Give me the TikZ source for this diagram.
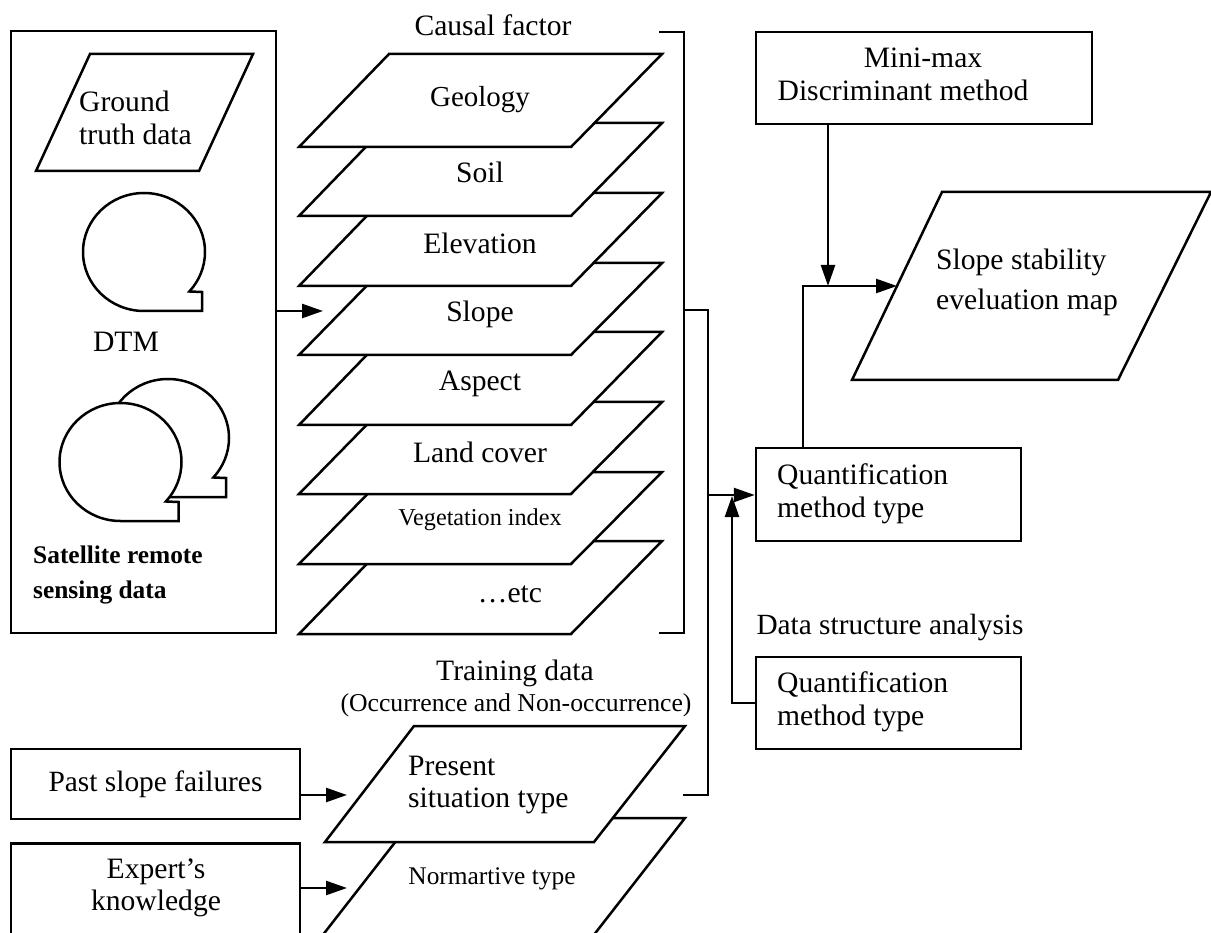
\documentclass[tikz,border=0pt]{standalone}
\usepackage{fontspec}
\setmainfont{Liberation Serif}
\usetikzlibrary{arrows.meta}
\tikzset{
  ln/.style={line width=2.5pt,line join=miter},
  flow/.style={ln,-{Triangle[length=21pt,width=14pt]}},
  lbl/.style={inner sep=0pt,font=\fontsize{29.6}{32.5}\selectfont,align=center},
  lbll/.style={lbl,align=left,anchor=west},
  boxed/.style={ln,draw,inner sep=0pt,fill=white},
}
\newcommand{\plate}[7]{% name, TLx, top, TRx, BRx, bottom, BLx
  \path[ln,draw=black,fill=white] (#2,#3) coordinate (#1) -- (#4,#3) -- (#5,#6) -- (#7,#6) -- cycle;
}
\newcommand{\bubble}[3]{% cx cy name
  \begin{scope}[shift={(#1,#2)}]
  \path[ln,draw=black,fill=white] (0,59) coordinate (#3) arc[start angle=90,end angle=402,x radius=61,y radius=59] -- (58,40) -- (58,59) -- cycle;
  \end{scope}
}
\begin{document}
\begin{tikzpicture}[x=1pt,y=1pt,yscale=-1]
\useasboundingbox (0,0) rectangle (1211,933);
\fill[white] (0,0) rectangle (1211,933);

% left panel
\node[boxed,minimum width=265pt,minimum height=602pt] (panel) at (143.5,332) {};
\plate{gt}{90}{54}{253}{199}{171}{36}
\node[lbll] (gttext) at (79,118) {Ground\\truth data};
\bubble{144}{252}{dtm}
\node[lbl] (dtmlabel) at (126,342) {DTM};
\bubble{168}{438}{satb}
\bubble{120.5}{462}{satf}
\node[lbl,align=left,anchor=west,font=\fontsize{25.4}{35}\selectfont\bfseries] (satlabel) at (33,575) {Satellite remote\\sensing data};

% causal plates, bottom first
\node[lbl] (causal) at (493,25) {Causal factor};
\plate{p8}{389}{541}{662}{571}{634}{299}
\plate{p7}{389}{472}{662}{571}{564}{299}
\plate{p6}{389}{402}{662}{571}{494}{299}
\plate{p5}{389}{332}{662}{571}{425}{299}
\plate{p4}{389}{263}{662}{571}{355}{299}
\plate{p3}{389}{193}{662}{571}{286}{299}
\plate{p2}{389}{123}{662}{571}{216}{299}
\plate{p1}{389}{54}{662}{571}{147}{299}
\node[lbl,font=\fontsize{29}{31}\selectfont] (geo) at (480,100) {Geology};
\node[lbl] (soil) at (480,172) {Soil};
\node[lbl] (elev) at (480,243) {Elevation};
\node[lbl] (slope) at (480,314) {Slope};
\node[lbl] (aspect) at (480,384) {Aspect};
\node[lbl] (land) at (480,452) {Land cover};
\node[lbl,font=\fontsize{24.2}{26}\selectfont] (veg) at (480,520) {Vegetation index};
\node[lbl] (etc) at (510,594) {…etc};

\coordinate (slopein) at (323,311);
\draw[flow] (panel.east |- slopein) -- (slopein);

% brackets
\coordinate (brT) at (659,32);
\coordinate (brB) at (659,633);
\coordinate (brM) at (684,310);
\draw[ln] (brT) -- (684,32) -- (684,633) -- (brB);
\coordinate (train) at (683,795);
\coordinate (jn) at (708,495);
\draw[ln] (brM) -- (708,310) -- (708,795) -- (train);

% training
\node[lbl] (train1) at (515,673) {Training data};
\node[lbl,font=\fontsize{25.7}{28}\selectfont] (train2) at (516,705) {(Occurrence and Non-occurrence)};
\plate{norm}{414}{818}{685}{586}{945}{315}
\plate{pres}{414}{726}{685}{594}{842}{325}
\node[lbll] (prestext) at (408,785) {Present\\situation type};
\node[lbl,anchor=center,font=\fontsize{25.4}{27}\selectfont] (normtext) at (492,879) {Normartive type};

% input boxes
\node[boxed,minimum width=289pt,minimum height=70pt,font=\fontsize{29.4}{32}\selectfont] (past) at (155.5,784) {\raisebox{-3pt}{Past slope failures}};
\node[boxed,minimum width=289pt,minimum height=120pt,anchor=north] (expbox) at (155.5,842) {};
\node[lbl] (expert) at (156,888) {Expert’s\\knowledge};
\coordinate (presin) at (347,795);
\coordinate (normin) at (347,888);
\draw[flow] (past.east |- presin) -- (presin);
\draw[flow] (expbox.east |- normin) -- (normin);

% quantification
\node[boxed,minimum width=265pt,minimum height=93pt] (q1) at (888.5,494.5) {};
\node[lbll] (q1text) at (777,494) {Quantification\\method type};
\node[boxed,minimum width=265pt,minimum height=92pt] (q2) at (888.5,703) {};
\node[lbll] (q2text) at (777,702) {Quantification\\method type};
\node[lbl,font=\fontsize{29.3}{31}\selectfont] (dsa) at (890,627) {Data structure analysis};
\coordinate (up) at (732,703);
\draw[flow] (jn) -- (jn -| q1.west);
\draw[flow] (q2.west) -- (up) -- (732,496);

% top right
\node[boxed,minimum width=336pt,minimum height=92pt] (mini) at (924,78) {};
\node[lbl] (minitext) at (923,58) {Mini-max};
\node[lbl] (disc) at (903,90) {Discriminant method};
\plate{map}{942}{192}{1211}{1118}{380}{852}
\node[lbll] (maptext) at (936,282) {Slope stability\\[7.5pt]eveluation map};
\coordinate (mapin) at (897,286);
\coordinate (elbow) at (803,286);
\draw[flow] (q1.north -| elbow) -- (elbow) -- (mapin);
\coordinate (drop) at (828,286);
\draw[flow] (mini.south -| drop) -- (drop);
\end{tikzpicture}
\end{document}
